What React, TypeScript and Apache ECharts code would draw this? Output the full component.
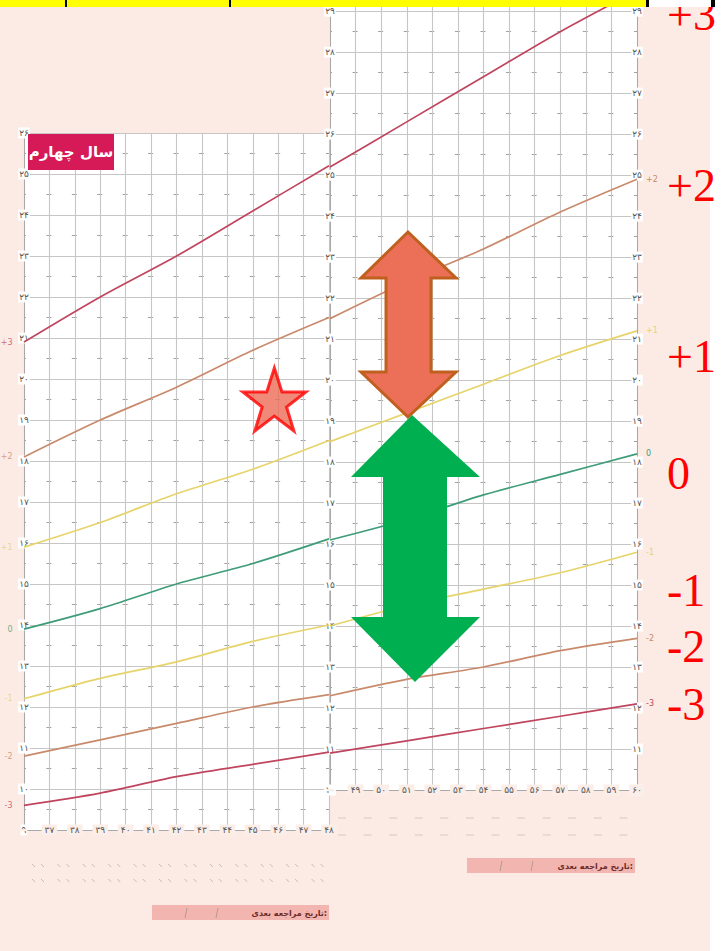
import React, { useEffect, useRef } from 'react';
import * as echarts from 'echarts';

// Ages in months (every 3 months)
const monthsLeft = [36, 39, 42, 45, 48];
const monthsRight = [48, 51, 54, 57, 60];
const monthsAll = [36, 39, 42, 45, 48, 51, 54, 57, 60];

// Weight (kg) curves
const zP3 = [20.9, 22.0, 23.0, 24.1, 25.2, 26.3, 27.4, 28.5, 29.5];
const zP2 = [18.1, 19.0, 19.8, 20.7, 21.5, 22.4, 23.2, 24.1, 24.9];
const zP1 = [15.9, 16.5, 17.2, 17.8, 18.5, 19.2, 19.9, 20.6, 21.2];
const z0 = [13.9, 14.4, 15.0, 15.5, 16.1, 16.6, 17.2, 17.7, 18.2];
const zM1 = [12.2, 12.7, 13.1, 13.6, 14.0, 14.5, 14.9, 15.3, 15.8];
const zM2 = [10.8, 11.2, 11.6, 12.0, 12.3, 12.7, 13.0, 13.4, 13.7];
const zM3 = [9.6, 9.9, 10.3, 10.6, 10.9, 11.2, 11.5, 11.8, 12.1];

const zNames = ['+3', '+2', '+1', '0', '-1', '-2', '-3'];
const zSeries = [zP3, zP2, zP1, z0, zM1, zM2, zM3];
const zColors = ['#c0455f', '#c98a6c', '#e6d46a', '#3f9c78', '#e6d46a', '#c98a6c', '#c0455f'];

// Child's measurement (star)
const childPoint = [45.85, 19.5];

const bigLabels = ['+3', '+2', '+1', '0', '-1', '-2', '-3'];

// Tick months for the axes
const ticksLeft = [36, 37, 38, 39, 40, 41, 42, 43, 44, 45, 46, 47, 48];
const ticksRight = [48, 49, 50, 51, 52, 53, 54, 55, 56, 57, 58, 59, 60];

const FA = '"DejaVu Sans", sans-serif';
const toFa = (v: number) => {
  if (Math.abs(v - Math.round(v)) > 1e-6) return '';
  return String(Math.round(v)).replace(/\d/g, (d) => '۰۱۲۳۴۵۶۷۸۹'[+d]);
};

const STAR = 'path://M50,0 L61.8,35.1 L98.9,35.1 L68.9,56.8 L80.3,91.9 L50,70.2 L19.7,91.9 L31.1,56.8 L1.1,35.1 L38.2,35.1 Z';

export default function App() {
  const ref = useRef<HTMLDivElement>(null);
  useEffect(() => {
    document.body.style.margin = '0';
    const chart = echarts.init(ref.current!, undefined, { renderer: 'svg' });

    const G1 = { left: 24, top: 133, width: 305, height: 697 };
    const G2 = { left: 330, top: 3, width: 307, height: 787 };

    const yLabel = {
      formatter: toFa,
      align: 'center' as const,
      margin: 0,
      fontSize: 9,
      color: '#555',
      fontFamily: FA,
      backgroundColor: '#fff',
      padding: [1, 1],
    };
    const xLabel = (hide: number) => ({
      formatter: (v: number) => (v === hide ? '' : toFa(v)),
      verticalAlign: 'middle' as const,
      margin: 0,
      fontSize: 9,
      color: '#555',
      fontFamily: FA,
      backgroundColor: '#fbeee8',
      padding: [1, 3],
    });
    const split = { show: true, lineStyle: { color: '#c6c6c6', width: 1.1 } };
    const axisLine = { show: true, lineStyle: { color: '#a8a8a8', width: 1 } };

    const leftIdx = monthsAll.indexOf(monthsLeft[0]);
    const midIdx = monthsAll.indexOf(monthsRight[0]);

    const series: any[] = [];
    zSeries.forEach((vals, i) => {
      series.push({
        type: 'line',
        name: zNames[i],
        xAxisIndex: 0,
        yAxisIndex: 0,
        data: monthsLeft.map((m, k) => [m, vals[leftIdx + k]]),
        showSymbol: false,
        symbol: 'none',
        smooth: 0.3,
        lineStyle: { color: zColors[i], width: 1.7 },
        z: 3,
      });
      series.push({
        type: 'line',
        name: zNames[i],
        xAxisIndex: 1,
        yAxisIndex: 1,
        data: monthsRight.map((m, k) => [m, vals[midIdx + k]]),
        showSymbol: false,
        symbol: 'none',
        smooth: 0.3,
        lineStyle: { color: zColors[i], width: 1.7 },
        endLabel: {
          show: i !== 0,
          formatter: zNames[i],
          color: zColors[i],
          fontSize: 8,
          distance: 9,
          fontFamily: FA,
        },
        z: 3,
      });
    });
    // start labels on the left
    series.push({
      type: 'scatter',
      xAxisIndex: 0,
      yAxisIndex: 0,
      symbol: 'circle',
      symbolSize: 1,
      itemStyle: { color: 'rgba(0,0,0,0)' },
      silent: true,
      data: zSeries.map((vals, i) => ({
        value: [monthsLeft[0], vals[leftIdx]],
        label: {
          show: true,
          position: 'left',
          distance: 11,
          formatter: zNames[i],
          color: zColors[i],
          fontSize: 8,
          fontFamily: FA,
        },
      })),
      z: 3,
    });
    // the star
    series.push({
      type: 'scatter',
      xAxisIndex: 0,
      yAxisIndex: 0,
      symbol: STAR,
      symbolSize: [63, 63],
      itemStyle: { color: '#ee6b56', borderColor: '#ff0000', borderWidth: 3 },
      data: [childPoint],
      z: 10,
    });

    const graphic: any[] = [];
    // top bar
    graphic.push({ type: 'rect', z: 110, shape: { x: 0, y: 0, width: 647, height: 7 }, style: { fill: '#ffff00' } });
    graphic.push({ type: 'rect', z: 110, shape: { x: 647, y: 0, width: 66, height: 7 }, style: { fill: '#ffffff' } });
    [65, 229].forEach((x) => graphic.push({ type: 'rect', z: 111, shape: { x, y: 0, width: 2, height: 7 }, style: { fill: '#000' } }));
    graphic.push({ type: 'rect', z: 111, shape: { x: 646, y: 0, width: 3, height: 7 }, style: { fill: '#000' } });
    graphic.push({ type: 'rect', z: 111, shape: { x: 711, y: 0, width: 4, height: 7 }, style: { fill: '#000' } });

    // big red z labels
    const bigY = [14, 185, 356, 473, 590, 646, 704];
    bigLabels.forEach((t, i) =>
      graphic.push({
        type: 'text',
        z: 100,
        x: 667,
        y: bigY[i],
        style: {
          text: t,
          fill: '#ff0000',
          font: '46px "Liberation Serif", "DejaVu Serif", serif',
          textAlign: 'left',
          textVerticalAlign: 'middle',
        },
      })
    );

    // title box
    graphic.push({ type: 'rect', z: 50, shape: { x: 28, y: 134, width: 86, height: 36 }, style: { fill: '#d61a58' } });
    graphic.push({
      type: 'text',
      z: 51,
      x: 71,
      y: 152,
      style: { text: 'سال چهارم', fill: '#fff', font: 'bold 15px "DejaVu Sans", sans-serif', textAlign: 'center', textVerticalAlign: 'middle' },
    });

    // arrows
    graphic.push({
      type: 'polygon',
      z: 60,
      shape: { points: [[408, 232], [456, 278], [431, 278], [431, 372], [456, 372], [408, 417], [361, 372], [386, 372], [386, 278], [361, 278]] },
      style: { fill: '#ec6f58', stroke: '#c0601e', lineWidth: 3, lineJoin: 'miter' },
    });
    graphic.push({
      type: 'polygon',
      z: 60,
      shape: { points: [[412, 415], [480, 477], [447, 477], [447, 617], [480, 617], [415, 682], [351, 617], [383, 617], [383, 477], [351, 477]] },
      style: { fill: '#00b050' },
    });

    // small dash rows under the panels
    const colL = G1.width / (ticksLeft.length - 1);
    ticksLeft.slice(1).forEach((m, i) => {
      const x0 = G1.left + i * colL;
      [866, 881].forEach((y) => {
        [8, 17].forEach((dx) =>
          graphic.push({ type: 'line', z: 5, shape: { x1: x0 + dx, y1: y - 2, x2: x0 + dx + 3, y2: y + 1 }, style: { stroke: '#cbbab2', lineWidth: 1 } })
        );
      });
    });
    const colR = G2.width / (ticksRight.length - 1);
    ticksRight.slice(1).forEach((m, i) => {
      const x0 = G2.left + i * colR;
      [818, 835].forEach((y) => {
        graphic.push({ type: 'line', z: 5, shape: { x1: x0 + 8, y1: y, x2: x0 + 16, y2: y }, style: { stroke: '#d8c8c0', lineWidth: 1 } });
      });
    });

    // next visit bars
    const bars = [
      { x: 152, y: 905, w: 177 },
      { x: 467, y: 858, w: 168 },
    ];
    bars.forEach((b) => {
      graphic.push({ type: 'rect', z: 5, shape: { x: b.x, y: b.y, width: b.w, height: 15 }, style: { fill: '#f3b5b0' } });
      [33, 64].forEach((dx) =>
        graphic.push({ type: 'line', z: 6, shape: { x1: b.x + dx + 2, y1: b.y + 3, x2: b.x + dx, y2: b.y + 13 }, style: { stroke: '#b89a96', lineWidth: 1 } })
      );
      graphic.push({
        type: 'text',
        z: 6,
        x: b.x + b.w - 2,
        y: b.y + 8,
        style: { text: 'تاریخ مراجعه بعدی:', fill: '#6a2d2d', font: 'bold 8px "DejaVu Sans", sans-serif', textAlign: 'right', textVerticalAlign: 'middle' },
      });
    });

    chart.setOption({
      animation: false,
      grid: [
        { ...G1, show: true, backgroundColor: '#ffffff', borderWidth: 0, containLabel: false },
        { ...G2, show: true, backgroundColor: '#ffffff', borderWidth: 0, containLabel: false },
      ],
      xAxis: [
        {
          gridIndex: 0, type: 'value', min: ticksLeft[0], max: ticksLeft[ticksLeft.length - 1], interval: 1,
          axisLine: axisLine, axisTick: { show: false }, axisLabel: xLabel(36), splitLine: split,
        },
        {
          gridIndex: 1, type: 'value', min: ticksRight[0], max: ticksRight[ticksRight.length - 1], interval: 1,
          axisLine: axisLine, axisTick: { show: false }, axisLabel: xLabel(48), splitLine: split,
        },
      ],
      yAxis: [
        {
          gridIndex: 0, type: 'value', min: 9, max: 26, interval: 1, position: 'left',
          axisLine: axisLine, axisTick: { show: false }, axisLabel: yLabel, splitLine: split,
          minorTick: { show: false, splitNumber: 2 },
          minorSplitLine: { show: true, lineStyle: { color: '#a0a0a0', width: 1, type: [5, G1.width / 12 - 5], dashOffset: 2.5 } },
        },
        {
          gridIndex: 1, type: 'value', min: 10, max: 29.2, interval: 1, position: 'left',
          axisLine: axisLine, axisTick: { show: false }, axisLabel: yLabel, splitLine: split,
          minorTick: { show: false, splitNumber: 2 },
          minorSplitLine: { show: true, lineStyle: { color: '#a0a0a0', width: 1, type: [5, G2.width / 12 - 5], dashOffset: 2.5 } },
        },
        {
          gridIndex: 1, type: 'value', min: 10, max: 29.2, interval: 1, position: 'right',
          axisLine: axisLine, axisTick: { show: false }, axisLabel: yLabel, splitLine: { show: false },
        },
      ],
      series,
      graphic,
    });
    return () => chart.dispose();
  }, []);

  return (
    <div style={{ position: 'fixed', left: 0, top: 0, width: 723, height: 951, background: '#ffffff' }}>
      <div style={{ position: 'absolute', left: 0, top: 7, width: 710, height: 944, background: '#fcebe4' }} />
      <div ref={ref} style={{ position: 'absolute', left: 0, top: 0, width: 723, height: 951 }} />
    </div>
  );
}
